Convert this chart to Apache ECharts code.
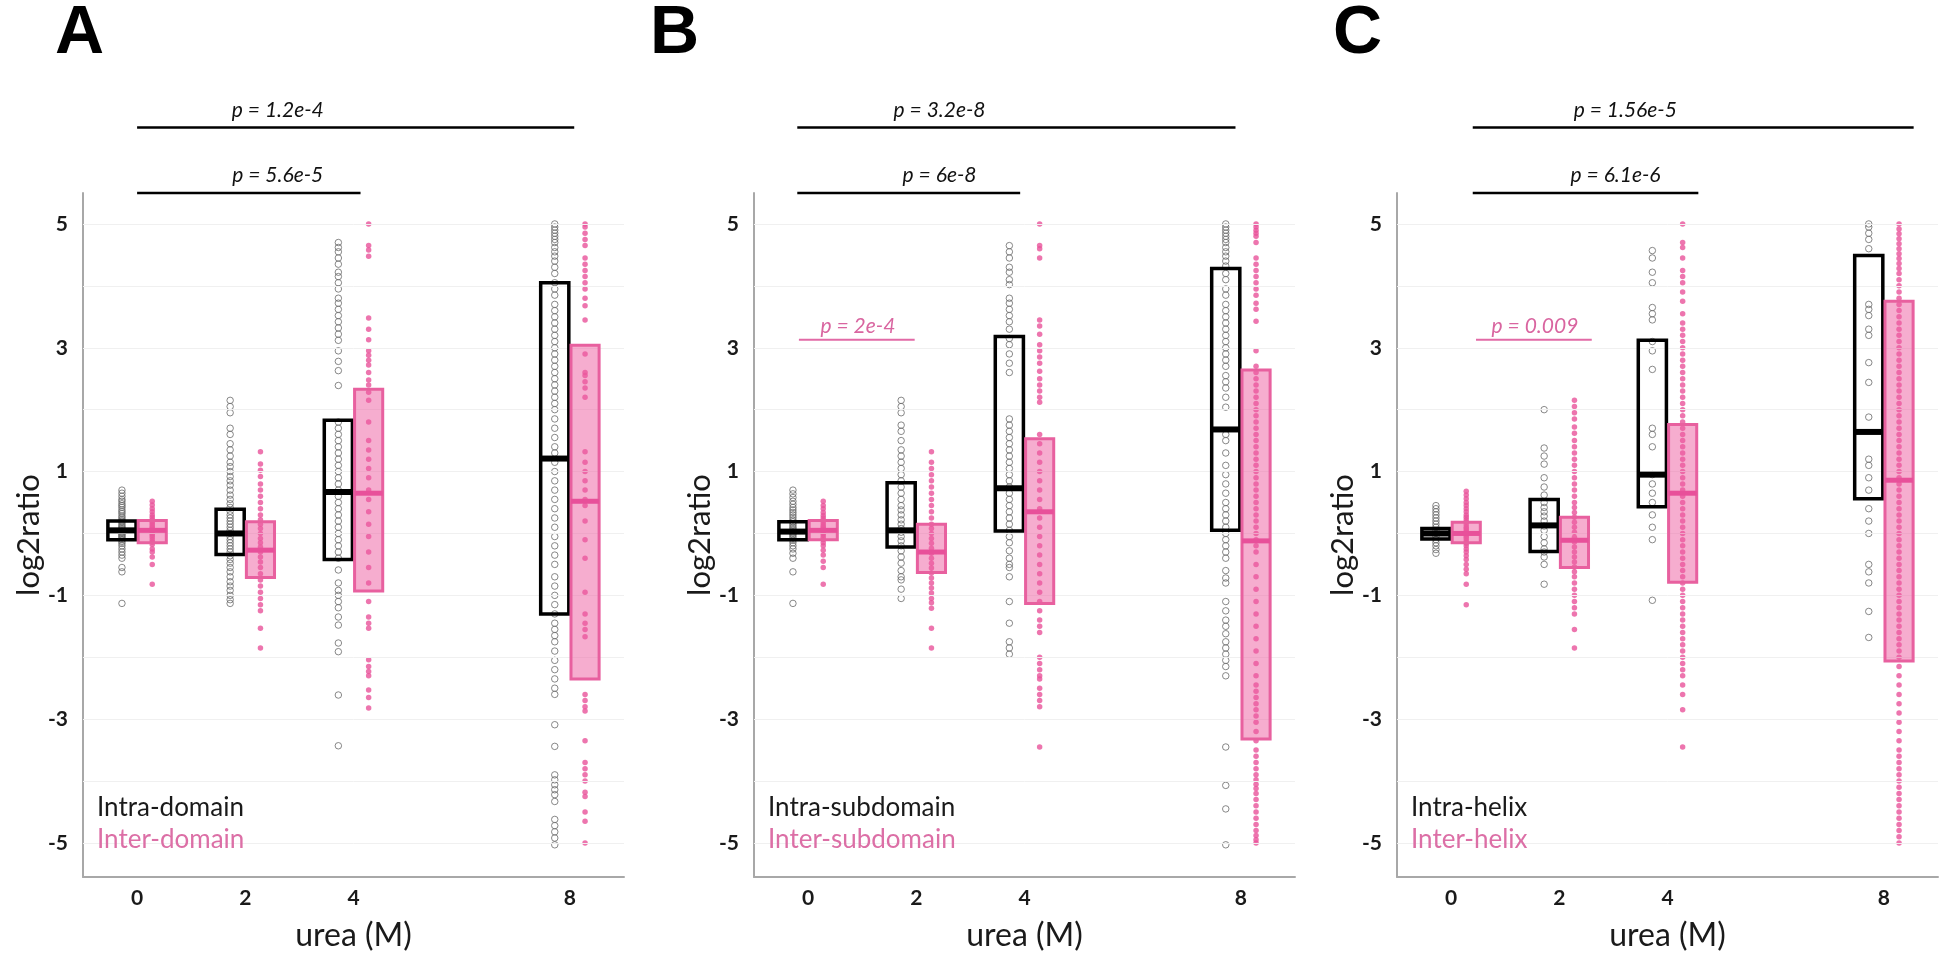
<!DOCTYPE html>
<html><head><meta charset="utf-8">
<script src="https://cdn.jsdelivr.net/npm/echarts@6/dist/echarts.min.js"></script>
<style>html,body{margin:0;padding:0;background:#fff}#chart{width:1950px;height:962px}</style>
</head><body><div id="chart"></div>
<script>
// ---------- data ----------
const urea = [0, 2, 4, 8];
const xTickLabels = [0, 2, 4, 8];
const yTickLabels = [-5, -3, -1, 1, 3, 5];
const gridValues = [-5, -4, -3, -2, -1, 0, 1, 2, 3, 4, 5];
const panelLetters = ['A', 'B', 'C'];
const intraNames = ['Intra-domain', 'Intra-subdomain', 'Intra-helix'];
const interNames = ['Inter-domain', 'Inter-subdomain', 'Inter-helix'];

// box statistics per urea level: [Q1, median, Q3]
const boxIntraA = [[-0.10, 0.05, 0.20], [-0.34, 0.00, 0.39], [-0.42, 0.67, 1.83], [-1.30, 1.21, 4.05]];
const boxInterA = [[-0.15, 0.05, 0.21], [-0.71, -0.27, 0.19], [-0.93, 0.65, 2.33], [-2.35, 0.52, 3.04]];
const boxIntraB = [[-0.10, 0.03, 0.19], [-0.22, 0.05, 0.82], [0.04, 0.73, 3.18], [0.05, 1.68, 4.28]];
const boxInterB = [[-0.10, 0.05, 0.21], [-0.63, -0.30, 0.15], [-1.13, 0.35, 1.53], [-3.32, -0.12, 2.64]];
const boxIntraC = [[-0.09, 0.00, 0.08], [-0.29, 0.13, 0.55], [0.43, 0.95, 3.12], [0.56, 1.64, 4.49]];
const boxInterC = [[-0.15, 0.00, 0.18], [-0.55, -0.11, 0.26], [-0.79, 0.65, 1.76], [-2.06, 0.86, 3.75]];

// individual log2ratio values per urea level (0, 2, 4, 8 M)
const ptsIntraA = [
  [0.70, 0.65, 0.60, 0.55, 0.52, 0.48, 0.45, 0.42, 0.38, 0.35, 0.32, 0.28, 0.25, 0.22, 0.20, 0.18, 0.15, 0.12, 0.10, 0.08, 0.06, 0.04, 0.02, 0.00, -0.02, -0.04, -0.06, -0.08, -0.10, -0.13, -0.16, -0.20, -0.25, -0.30, -0.35, -0.40, -0.55, -0.62, -1.13],
  [2.15, 2.05, 1.95, 1.70, 1.60, 1.45, 1.35, 1.25, 1.15, 1.08, 1.00, 0.92, 0.85, 0.78, 0.70, 0.62, 0.55, 0.48, 0.42, 0.36, 0.30, 0.25, 0.20, 0.15, 0.10, 0.05, 0.00, -0.05, -0.10, -0.15, -0.20, -0.25, -0.30, -0.36, -0.42, -0.48, -0.55, -0.62, -0.70, -0.78, -0.85, -0.92, -1.00, -1.07, -1.13],
  [4.70, 4.62, 4.55, 4.45, 4.35, 4.22, 4.15, 4.05, 3.95, 3.80, 3.72, 3.62, 3.52, 3.42, 3.32, 3.22, 3.12, 2.95, 2.78, 2.63, 2.39, 1.80, 1.70, 1.60, 1.50, 1.40, 1.30, 1.20, 1.10, 1.00, 0.90, 0.80, 0.70, 0.60, 0.50, 0.40, 0.30, 0.20, 0.10, 0.00, -0.10, -0.20, -0.30, -0.40, -0.59, -0.80, -0.92, -1.00, -1.10, -1.20, -1.35, -1.48, -1.77, -1.91, -2.61, -3.43],
  [5.00, 4.95, 4.90, 4.85, 4.80, 4.75, 4.70, 4.62, 4.55, 4.48, 4.40, 4.30, 4.20, 4.05, 3.95, 3.85, 3.70, 3.60, 3.50, 3.40, 3.30, 3.20, 3.10, 3.00, 2.90, 2.80, 2.70, 2.60, 2.50, 2.40, 2.30, 2.20, 2.10, 2.00, 1.85, 1.70, 1.55, 1.40, 1.30, 1.15, 1.00, 0.85, 0.70, 0.55, 0.40, 0.25, 0.10, -0.05, -0.20, -0.35, -0.50, -0.70, -0.85, -1.00, -1.15, -1.30, -1.45, -1.55, -1.65, -1.75, -1.90, -2.05, -2.20, -2.35, -2.50, -2.60, -3.09, -3.44, -3.90, -3.98, -4.06, -4.14, -4.22, -4.33, -4.62, -4.72, -4.82, -4.92, -5.03]
];
const ptsInterA = [
  [0.52, 0.46, 0.40, 0.35, 0.30, 0.26, 0.22, 0.19, 0.16, 0.13, 0.10, 0.08, 0.05, 0.03, 0.00, -0.03, -0.06, -0.10, -0.14, -0.18, -0.25, -0.30, -0.38, -0.50, -0.82],
  [1.32, 1.12, 1.02, 0.92, 0.80, 0.70, 0.60, 0.50, 0.40, 0.30, 0.22, 0.15, 0.08, 0.00, -0.08, -0.15, -0.22, -0.30, -0.38, -0.46, -0.55, -0.65, -0.75, -0.85, -0.95, -1.05, -1.15, -1.25, -1.53, -1.85],
  [5.00, 4.65, 4.58, 4.48, 3.48, 3.30, 3.13, 2.95, 2.88, 2.80, 2.72, 2.60, 2.48, 2.40, 2.28, 2.15, 1.80, 1.50, 1.35, 1.20, 1.05, 0.90, 0.70, 0.55, 0.35, 0.15, -0.05, -0.30, -0.55, -0.80, -1.10, -1.35, -1.45, -1.53, -2.04, -2.15, -2.23, -2.30, -2.53, -2.65, -2.82],
  [5.00, 4.95, 4.85, 4.75, 4.65, 4.45, 4.35, 4.25, 4.15, 4.05, 3.95, 3.80, 3.68, 3.45, 2.90, 2.60, 2.55, 2.45, 2.35, 2.20, 1.32, 1.15, 1.00, 0.85, 0.70, 0.55, 0.45, 0.20, -0.10, -0.40, -0.95, -1.30, -1.45, -1.55, -1.67, -2.60, -2.70, -2.80, -2.87, -3.35, -3.70, -3.80, -3.90, -4.00, -4.18, -4.25, -4.50, -4.65, -5.00]
];
const ptsIntraB = [
  [0.70, 0.64, 0.58, 0.52, 0.47, 0.42, 0.38, 0.34, 0.30, 0.26, 0.22, 0.19, 0.16, 0.13, 0.10, 0.08, 0.05, 0.03, 0.00, -0.02, -0.05, -0.08, -0.11, -0.15, -0.20, -0.25, -0.32, -0.40, -0.62, -1.13],
  [2.15, 2.05, 1.95, 1.75, 1.65, 1.50, 1.35, 1.25, 1.15, 1.05, 0.95, 0.85, 0.75, 0.65, 0.55, 0.45, 0.38, 0.30, 0.22, 0.15, 0.08, 0.02, -0.05, -0.12, -0.20, -0.28, -0.38, -0.48, -0.60, -0.70, -0.75, -0.90, -1.05],
  [4.65, 4.55, 4.45, 4.30, 4.22, 4.10, 4.02, 3.80, 3.72, 3.62, 3.52, 3.42, 3.30, 3.15, 3.05, 2.90, 2.75, 2.60, 1.85, 1.75, 1.65, 1.55, 1.45, 1.35, 1.25, 1.15, 1.05, 0.95, 0.85, 0.75, 0.65, 0.55, 0.45, 0.35, 0.25, 0.15, 0.05, -0.05, -0.15, -0.28, -0.40, -0.50, -0.55, -0.70, -1.10, -1.45, -1.75, -1.85, -1.95],
  [5.00, 4.95, 4.90, 4.85, 4.80, 4.75, 4.70, 4.62, 4.55, 4.48, 4.40, 4.32, 4.20, 4.10, 3.95, 3.85, 3.70, 3.60, 3.50, 3.40, 3.30, 3.20, 3.10, 3.00, 2.90, 2.80, 2.70, 2.55, 2.45, 2.35, 2.20, 2.04, 1.60, 1.50, 1.30, 1.10, 0.95, 0.80, 0.65, 0.50, 0.40, 0.30, 0.20, 0.10, 0.00, -0.10, -0.20, -0.30, -0.40, -0.60, -0.72, -0.80, -1.10, -1.25, -1.40, -1.50, -1.62, -1.75, -1.85, -1.95, -2.05, -2.15, -2.30, -3.45, -4.07, -4.45, -5.03]
];
const ptsInterB = [
  [0.52, 0.45, 0.40, 0.34, 0.29, 0.25, 0.21, 0.17, 0.13, 0.10, 0.07, 0.04, 0.01, -0.02, -0.06, -0.10, -0.15, -0.20, -0.27, -0.35, -0.45, -0.55, -0.82],
  [1.32, 1.15, 1.05, 0.95, 0.85, 0.75, 0.65, 0.55, 0.45, 0.35, 0.25, 0.15, 0.08, 0.00, -0.08, -0.16, -0.24, -0.32, -0.40, -0.48, -0.56, -0.64, -0.72, -0.80, -0.88, -0.96, -1.05, -1.12, -1.21, -1.53, -1.85],
  [5.00, 4.65, 4.60, 4.45, 3.45, 3.35, 3.22, 3.05, 2.95, 2.85, 2.75, 2.62, 2.50, 2.40, 2.30, 2.20, 2.12, 1.60, 1.45, 1.30, 1.15, 1.00, 0.85, 0.70, 0.55, 0.40, 0.25, 0.10, -0.05, -0.20, -0.35, -0.50, -0.65, -0.80, -0.95, -1.10, -1.25, -1.40, -1.50, -1.60, -2.00, -2.10, -2.20, -2.30, -2.35, -2.50, -2.60, -2.70, -2.80, -3.45],
  [5.00, 4.95, 4.90, 4.85, 4.80, 4.70, 4.45, 4.35, 4.25, 4.15, 4.05, 3.95, 3.85, 3.72, 3.62, 3.43, 2.95, 2.70, 2.60, 2.50, 2.40, 2.30, 2.20, 2.10, 2.00, 1.90, 1.80, 1.70, 1.60, 1.50, 1.40, 1.30, 1.20, 1.10, 1.00, 0.90, 0.80, 0.70, 0.60, 0.50, 0.40, 0.30, 0.20, 0.10, 0.00, -0.10, -0.20, -0.30, -0.50, -0.70, -0.90, -1.10, -1.30, -1.50, -1.70, -1.90, -2.10, -2.30, -2.45, -2.55, -2.65, -2.75, -2.85, -2.95, -3.05, -3.20, -3.35, -3.50, -3.60, -3.70, -3.80, -3.90, -3.98, -4.05, -4.12, -4.20, -4.30, -4.40, -4.50, -4.60, -4.70, -4.80, -4.88, -4.95, -5.00]
];
const ptsIntraC = [
  [0.45, 0.40, 0.35, 0.30, 0.25, 0.20, 0.15, 0.10, 0.05, 0.00, -0.05, -0.10, -0.15, -0.20, -0.26, -0.32],
  [2.00, 1.38, 1.25, 1.12, 0.90, 0.75, 0.62, 0.50, 0.42, 0.35, 0.28, 0.20, 0.12, 0.05, -0.05, -0.15, -0.25, -0.30, -0.38, -0.50, -0.82],
  [4.57, 4.45, 4.22, 4.05, 3.65, 3.55, 3.45, 3.10, 2.95, 2.65, 1.70, 1.60, 1.40, 0.95, 0.80, 0.65, 0.50, 0.30, 0.10, -0.10, -1.08],
  [5.00, 4.95, 4.85, 4.75, 4.60, 3.70, 3.62, 3.52, 3.30, 3.20, 2.76, 2.44, 1.88, 1.20, 1.10, 0.90, 0.70, 0.40, 0.20, 0.00, -0.50, -0.62, -0.80, -1.26, -1.68]
];
const ptsInterC = [
  [0.68, 0.62, 0.56, 0.50, 0.45, 0.40, 0.35, 0.30, 0.26, 0.22, 0.18, 0.14, 0.10, 0.07, 0.04, 0.01, -0.02, -0.05, -0.08, -0.12, -0.16, -0.20, -0.25, -0.30, -0.36, -0.42, -0.50, -0.58, -0.65, -0.82, -1.15],
  [2.15, 2.05, 1.95, 1.85, 1.72, 1.62, 1.50, 1.40, 1.30, 1.20, 1.10, 1.00, 0.90, 0.80, 0.70, 0.60, 0.50, 0.42, 0.34, 0.26, 0.18, 0.10, 0.02, -0.06, -0.14, -0.22, -0.30, -0.38, -0.46, -0.54, -0.62, -0.70, -0.80, -0.90, -1.00, -1.10, -1.20, -1.30, -1.55, -1.85],
  [5.00, 4.70, 4.62, 4.45, 4.25, 4.15, 4.05, 3.90, 3.75, 3.55, 3.40, 3.30, 3.20, 3.10, 3.00, 2.90, 2.80, 2.70, 2.60, 2.50, 2.40, 2.30, 2.20, 2.10, 2.00, 1.90, 1.80, 1.70, 1.60, 1.50, 1.40, 1.30, 1.20, 1.10, 1.00, 0.90, 0.80, 0.70, 0.60, 0.50, 0.40, 0.30, 0.20, 0.10, 0.00, -0.10, -0.20, -0.30, -0.40, -0.50, -0.60, -0.70, -0.80, -0.90, -1.00, -1.10, -1.20, -1.30, -1.40, -1.50, -1.60, -1.70, -1.80, -1.90, -2.00, -2.10, -2.20, -2.30, -2.45, -2.60, -2.85, -3.45],
  [5.00, 4.92, 4.84, 4.76, 4.68, 4.60, 4.52, 4.44, 4.36, 4.28, 4.20, 4.10, 4.00, 3.90, 3.80, 3.70, 3.60, 3.50, 3.40, 3.30, 3.20, 3.10, 3.00, 2.90, 2.80, 2.70, 2.60, 2.50, 2.40, 2.30, 2.20, 2.10, 2.00, 1.90, 1.80, 1.70, 1.60, 1.50, 1.40, 1.30, 1.20, 1.10, 1.00, 0.90, 0.80, 0.70, 0.60, 0.50, 0.40, 0.30, 0.20, 0.10, 0.00, -0.10, -0.20, -0.30, -0.40, -0.50, -0.60, -0.70, -0.80, -0.90, -1.00, -1.10, -1.20, -1.30, -1.40, -1.50, -1.60, -1.70, -1.80, -1.90, -2.00, -2.15, -2.30, -2.45, -2.60, -2.75, -2.90, -3.05, -3.20, -3.35, -3.50, -3.60, -3.70, -3.80, -3.90, -4.00, -4.10, -4.20, -4.30, -4.40, -4.50, -4.60, -4.70, -4.80, -4.90, -5.00]
];

// significance annotations (x in urea units, level in log2ratio units)
const pTextA = ['p = 1.2e-4', 'p = 5.6e-5'];
const pFromA = [0, 0];
const pToA = [8.08, 4.13];
const pLevelA = [6.56, 5.5];
const pTextXA = [2.6, 2.6];
const pColorA = ['black', 'black'];

const pTextB = ['p = 3.2e-8', 'p = 6e-8', 'p = 2e-4'];
const pFromB = [-0.2, -0.2, -0.17];
const pToB = [7.9, 3.92, 1.97];
const pLevelB = [6.56, 5.5, 3.13];
const pTextXB = [2.43, 2.43, 0.92];
const pColorB = ['black', 'black', 'pink'];

const pTextC = ['p = 1.56e-5', 'p = 6.1e-6', 'p = 0.009'];
const pFromC = [0.4, 0.4, 0.46];
const pToC = [8.55, 4.57, 2.6];
const pLevelC = [6.56, 5.5, 3.13];
const pTextXC = [3.22, 3.04, 1.55];
const pColorC = ['black', 'black', 'pink'];

// ---------- layout / style ----------
const gridLefts = [83, 754, 1397];
const gridWidths = [541, 541, 541];
const GRID_TOP = 193, GRID_H = 684;
const OFFSET = 0.28, BOX_W = 0.52;
const PINK = '#e9529a';
const FONT = 'Lato, "Open Sans", sans-serif';

const panels = [
  {box: [boxIntraA, boxInterA], pts: [ptsIntraA, ptsInterA], p: [pTextA, pFromA, pToA, pLevelA, pTextXA, pColorA]},
  {box: [boxIntraB, boxInterB], pts: [ptsIntraB, ptsInterB], p: [pTextB, pFromB, pToB, pLevelB, pTextXB, pColorB]},
  {box: [boxIntraC, boxInterC], pts: [ptsIntraC, ptsInterC], p: [pTextC, pFromC, pToC, pLevelC, pTextXC, pColorC]}
];

const grids = [], xAxes = [], yAxes = [], series = [], graphics = [];

panels.forEach((pan, k) => {
  grids.push({left: gridLefts[k], top: GRID_TOP, width: gridWidths[k], height: GRID_H});
  xAxes.push({
    type: 'value', gridIndex: k, min: -1, max: 9,
    name: 'urea (M)', nameLocation: 'middle', nameGap: 43,
    nameTextStyle: {fontSize: 32, fontFamily: FONT, color: '#1a1a1a'},
    axisLine: {onZero: false, lineStyle: {color: '#a8a8a8', width: 2}},
    axisTick: {show: false}, splitLine: {show: false},
    axisLabel: {customValues: xTickLabels, fontSize: 21, fontWeight: 'bold', fontFamily: FONT, color: '#1a1a1a', margin: 11}
  });
  yAxes.push({
    type: 'value', gridIndex: k, min: -5.55, max: 5.5,
    name: 'log2ratio', nameLocation: 'middle', nameGap: 37, nameRotate: 90,
    nameTextStyle: {fontSize: 31, fontFamily: FONT, color: '#1a1a1a'},
    axisLine: {show: true, onZero: false, lineStyle: {color: '#a8a8a8', width: 2}},
    axisTick: {show: false}, splitLine: {show: false},
    axisLabel: {customValues: yTickLabels, fontSize: 21, fontWeight: 'bold', fontFamily: FONT, color: '#1a1a1a', margin: 15}
  });

  const styles = [
    {off: -OFFSET, fill: 'rgba(0,0,0,0)', stroke: '#000', lw: 3.5, med: '#000', mlw: 6},
    {off: OFFSET, fill: 'rgba(238,92,160,0.5)', stroke: '#e8609f', lw: 3, med: '#e8509a', mlw: 5}
  ];

  // points (strip)
  [0, 1].forEach(g => {
    const data = [];
    urea.forEach((u, i) => pan.pts[g][i].forEach(v => data.push([u + styles[g].off, v])));
    const s = {
      type: 'scatter', name: g === 0 ? intraNames[k] : interNames[k],
      xAxisIndex: k, yAxisIndex: k, z: 3, silent: true,
      symbol: 'circle', symbolSize: g === 0 ? 6.5 : 5.5,
      itemStyle: g === 0 ? {color: 'rgba(255,255,255,0)', borderColor: '#6a6a6a', borderWidth: 1} : {color: PINK},
      data: data
    };
    if (g === 0) {
      s.markLine = {
        silent: true, symbol: ['none', 'none'], label: {show: false},
        lineStyle: {color: '#f0f0f0', width: 1, type: 'solid'},
        animation: false,
        data: gridValues.map(v => ({yAxis: v}))
      };
    }
    series.push(s);
  });

  // boxes
  [0, 1].forEach(g => {
    const st = styles[g];
    series.push({
      type: 'custom', xAxisIndex: k, yAxisIndex: k, z: 5, silent: true,
      encode: {x: 0, y: [1, 2, 3]},
      data: urea.map((u, i) => [u + st.off, pan.box[g][i][0], pan.box[g][i][1], pan.box[g][i][2]]),
      renderItem: (params, api) => {
        const x = api.value(0);
        const lo = api.coord([x, api.value(1)]);
        const md = api.coord([x, api.value(2)]);
        const hi = api.coord([x, api.value(3)]);
        const w = api.size([BOX_W, 0])[0];
        return {type: 'group', children: [
          {type: 'rect', shape: {x: lo[0] - w / 2, y: hi[1], width: w, height: lo[1] - hi[1]},
           style: {fill: st.fill, stroke: st.stroke, lineWidth: st.lw}},
          {type: 'line', shape: {x1: lo[0] - w / 2, y1: md[1], x2: lo[0] + w / 2, y2: md[1]},
           style: {stroke: st.med, lineWidth: st.mlw}}
        ]};
      }
    });
  });

  // significance brackets
  const [pt, pf, pto, pl, ptx, pc] = pan.p;
  series.push({
    type: 'custom', xAxisIndex: k, yAxisIndex: k, z: 6, silent: true, clip: false,
    data: pt.map((t, i) => [pf[i], pto[i], pl[i], ptx[i]]),
    renderItem: (params, api) => {
      const i = params.dataIndex;
      const a = api.coord([api.value(0), api.value(2)]);
      const b = api.coord([api.value(1), api.value(2)]);
      const tpos = api.coord([api.value(3), api.value(2)]);
      const pink = pc[i] === 'pink';
      return {type: 'group', children: [
        {type: 'line', shape: {x1: a[0], y1: a[1], x2: b[0], y2: b[1]},
         style: {stroke: pink ? '#e26aa6' : '#000', lineWidth: pink ? 2 : 2.5}},
        {type: 'text', x: tpos[0], y: tpos[1] - (pink ? 3 : 7),
         style: {text: pt[i], align: 'center', verticalAlign: 'bottom',
                 font: 'italic 21px ' + FONT, fill: pink ? '#d965a0' : '#111'}}
      ]};
    }
  });

  // legend-like labels
  graphics.push({type: 'text', left: gridLefts[k] + 14, top: 795, z: 100,
    style: {text: intraNames[k], font: '26px ' + FONT, fill: '#1a1a1a'}});
  graphics.push({type: 'text', left: gridLefts[k] + 14, top: 827, z: 100,
    style: {text: interNames[k], font: '26px ' + FONT, fill: '#dc6fa6'}});
});

const letterX = [55, 650, 1333];
panelLetters.forEach((L, k) => {
  graphics.push({type: 'text', left: letterX[k], top: 0, z: 100,
    style: {text: L, font: 'bold 68px "Liberation Sans", Arial, sans-serif', fill: '#000'}});
});

const chart = echarts.init(document.getElementById('chart'));
chart.setOption({
  animation: false,
  backgroundColor: '#fff',
  grid: grids, xAxis: xAxes, yAxis: yAxes, series: series, graphic: graphics
});
</script></body></html>
